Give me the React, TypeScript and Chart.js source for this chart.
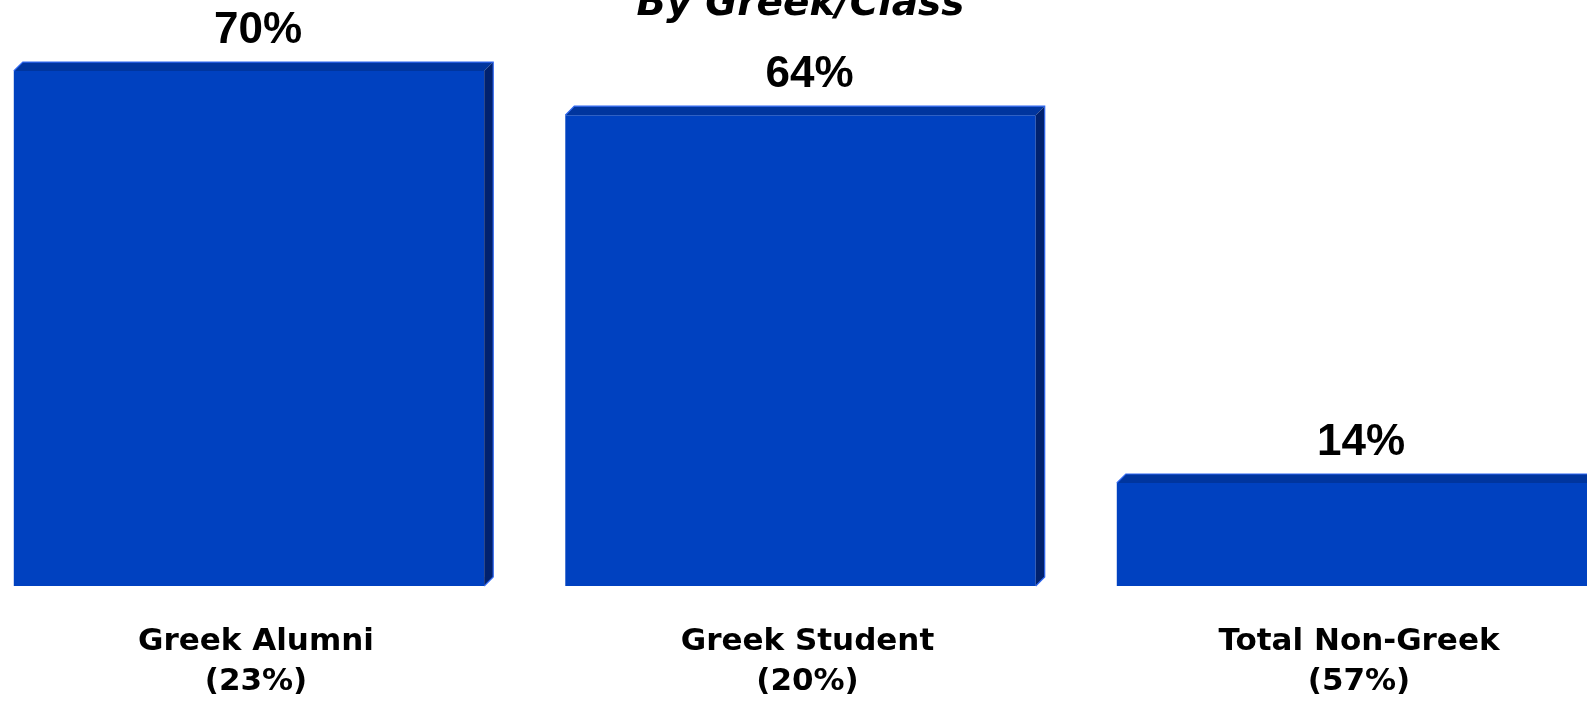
import React, { useEffect, useRef } from "react";
import { Chart, registerables } from "chart.js";

Chart.register(...registerables);

const categories: string[][] = [
  ["Greek Alumni", "(23%)"],
  ["Greek Student", "(20%)"],
  ["Total Non-Greek", "(57%)"],
];
const values: number[] = [70, 64, 14];
const valueLabels: string[] = ["70%", "64%", "14%"];
const titleText = "By Greek/Class";

const FRONT = "#0041C0";
const TOP = "#00359E";
const SIDE = "#00216E";
const EDGE = "#2E66F0";
const DEPTH = 9;

const bar3d = {
  id: "bar3d",
  afterDatasetsDraw(chart: any) {
    const ctx = chart.ctx;
    const meta = chart.getDatasetMeta(0);
    ctx.save();
    meta.data.forEach((bar: any, i: number) => {
      const { x, y, base, width } = bar.getProps(["x", "y", "base", "width"], true);
      const l = x - width / 2;
      const r = x + width / 2;
      const d = DEPTH;
      // top face
      ctx.fillStyle = TOP;
      ctx.beginPath();
      ctx.moveTo(l, y);
      ctx.lineTo(l + d, y - d);
      ctx.lineTo(r + d, y - d);
      ctx.lineTo(r, y);
      ctx.closePath();
      ctx.fill();
      // side face
      ctx.fillStyle = SIDE;
      ctx.beginPath();
      ctx.moveTo(r, y);
      ctx.lineTo(r + d, y - d);
      ctx.lineTo(r + d, base - d);
      ctx.lineTo(r, base);
      ctx.closePath();
      ctx.fill();
      // edges
      ctx.strokeStyle = EDGE;
      ctx.lineWidth = 1.2;
      ctx.beginPath();
      ctx.moveTo(l, y);
      ctx.lineTo(l + d, y - d);
      ctx.lineTo(r + d, y - d);
      ctx.lineTo(r + d, base - d);
      ctx.lineTo(r, base);
      ctx.stroke();
      // value label
      ctx.fillStyle = "#000";
      ctx.font = "bold 44px Arial, 'Liberation Sans', Helvetica, sans-serif";
      ctx.textAlign = "center";
      ctx.textBaseline = "alphabetic";
      ctx.fillText(valueLabels[i], x + 9, y - 28);
    });
    ctx.restore();
  },
};

export default function App() {
  const ref = useRef<HTMLCanvasElement | null>(null);
  useEffect(() => {
    if (!ref.current) return;
    const chart = new Chart(ref.current, {
      type: "bar",
      data: {
        labels: categories,
        datasets: [
          {
            data: values,
            backgroundColor: FRONT,
            borderWidth: 0,
            barPercentage: 0.853,
            categoryPercentage: 1,
          },
        ],
      },
      options: {
        animation: false,
        responsive: true,
        maintainAspectRatio: false,
        layout: { padding: { left: 33.25, right: 32.25, top: 0, bottom: 18 } },
        plugins: {
          legend: { display: false },
          tooltip: { enabled: false },
          title: {
            display: true,
            text: titleText,
            color: "#000",
            font: { family: "'DejaVu Sans', sans-serif", size: 39, weight: "bold", style: "italic", lineHeight: 1 },
            padding: { top: 25, bottom: 10.25 },
          },
        },
        scales: {
          x: {
            grid: { display: false, drawTicks: false },
            border: { display: false },
            ticks: {
              color: "#000",
              padding: 36,
              labelOffset: 7,
              maxRotation: 0,
              autoSkip: false,
              font: { family: "'DejaVu Sans', sans-serif", size: 31, weight: "bold", lineHeight: 40 / 31 },
            },
          },
          y: {
            display: false,
            min: 0,
            max: 75,
          },
        },
      },
      plugins: [bar3d],
    });
    return () => chart.destroy();
  }, []);
  return (
    <div style={{ position: "fixed", left: 0, top: 0, width: 1587, height: 703, overflow: "hidden", background: "#fff" }}>
      <div style={{ position: "absolute", left: -60, top: -40, width: 1720, height: 796 }}>
        <canvas ref={ref} />
      </div>
    </div>
  );
}
